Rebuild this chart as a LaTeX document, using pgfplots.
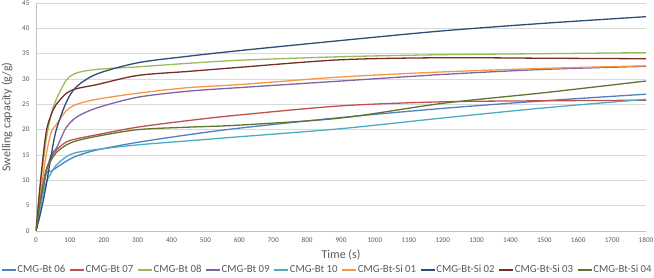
\documentclass[border=0pt]{standalone}
\usepackage{fontspec}
\setmainfont{Carlito}
\usepackage{pgfplots}
\pgfplotsset{compat=1.18}
\definecolor{c1}{HTML}{4F81BD}
\definecolor{c2}{HTML}{C0504D}
\definecolor{c3}{HTML}{9BBB59}
\definecolor{c4}{HTML}{8064A2}
\definecolor{c5}{HTML}{4BACC6}
\definecolor{c6}{HTML}{F79646}
\definecolor{c7}{HTML}{2C4D75}
\definecolor{c8}{HTML}{772C2A}
\definecolor{c9}{HTML}{5F7530}
\definecolor{txt}{HTML}{595959}
\definecolor{grd}{HTML}{D9D9D9}
\definecolor{axl}{HTML}{BFBFBF}
\begin{document}
\begin{tikzpicture}
\path[use as bounding box] (-36pt,-47pt) rectangle (618pt,231pt);
\begin{axis}[
  scale only axis,
  width=610pt, height=228pt,
  xmin=0, xmax=1800, ymin=0, ymax=45,
  xtick distance=100, ytick distance=5,
  axis lines*=left,
  axis line style={draw=axl, line width=0.8pt},
  ymajorgrids, grid style={draw=grd, line width=0.8pt},
  major tick length=0pt,
  tick label style={font=\fontsize{7.2}{8}\selectfont, text=txt},
  /pgf/number format/assume math mode=true,
  /pgf/number format/set thousands separator={},
  xticklabel style={yshift=-3pt},
  yticklabel style={xshift=-3pt},
  xlabel={Time (s)}, ylabel={Swelling capacity (g/g)},
  label style={font=\fontsize{12}{14}\selectfont, text=txt},
  xlabel style={at={(axis description cs:0.5,0)}, anchor=north, yshift=-15pt},
  ylabel style={at={(axis description cs:0,0.5)}, anchor=south, xshift=0pt, yshift=20pt},
  legend columns=9,
  legend style={draw=none, fill=none, at={(0.477,-0.171)}, anchor=center,
    font=\fontsize{10.8}{13}\selectfont, text=txt,
    /tikz/every even column/.append style={column sep=3pt},
    nodes={inner xsep=1pt, inner ysep=0pt}},
  legend image code/.code={\draw[#1, line width=1.2pt] (0pt,0pt) -- (14pt,0pt);},
  every axis plot/.append style={line width=1.3pt, smooth, no markers},
]
\addplot[c1] coordinates {(0,0)(15,6)(30,11.3)(45,11.8)(60,12.5)(90,13.8)(120,14.8)(180,16.0)(300,17.5)(450,19.0)(600,20.3)(900,22.4)(1200,24.2)(1500,25.7)(1800,27.0)};
\addlegendentry{CMG-Bt 06}
\addplot[c2] coordinates {(0,0)(15,7)(30,12)(45,14.5)(60,16)(90,17.6)(120,18.2)(180,19.0)(300,20.5)(450,21.8)(600,22.9)(900,24.7)(1200,25.5)(1500,25.7)(1800,25.8)};
\addlegendentry{CMG-Bt 07}
\addplot[c3] coordinates {(0,0)(15,10)(30,18)(45,23)(60,26)(90,29.8)(120,31.2)(180,31.9)(300,32.4)(450,33.1)(600,33.7)(900,34.4)(1200,34.8)(1500,35.0)(1800,35.2)};
\addlegendentry{CMG-Bt 08}
\addplot[c4] coordinates {(0,0)(15,6)(30,11.5)(45,15)(60,16.3)(75,18.5)(90,20.5)(120,22.5)(180,24.3)(300,26.4)(450,27.6)(600,28.3)(900,29.6)(1200,30.9)(1500,31.9)(1800,32.5)};
\addlegendentry{CMG-Bt 09}
\addplot[c5] coordinates {(0,0)(15,5.5)(30,9.5)(45,11.5)(60,13)(90,14.7)(120,15.5)(180,16.1)(300,17.0)(450,17.8)(600,18.6)(900,20.2)(1200,22.3)(1500,24.3)(1800,26.0)};
\addlegendentry{CMG-Bt 10}
\addplot[c6] coordinates {(0,0)(15,8)(30,15)(45,19.5)(60,21)(90,23.8)(120,25)(180,26)(300,27.2)(450,28.3)(600,28.9)(900,30.4)(1200,31.4)(1500,32.1)(1800,32.6)};
\addlegendentry{CMG-Bt-Si 01}
\addplot[c7] coordinates {(0,0)(15,4)(30,9)(45,15)(60,20)(90,25.5)(120,28.5)(180,31)(300,33.2)(450,34.5)(600,35.6)(900,37.6)(1200,39.5)(1500,41.0)(1800,42.3)};
\addlegendentry{CMG-Bt-Si 02}
\addplot[c8] coordinates {(0,0)(15,11)(30,19.5)(45,23)(60,25)(90,27.2)(120,28.1)(180,28.9)(300,30.7)(450,31.5)(600,32.3)(900,33.8)(1200,34.2)(1500,34.1)(1800,34.0)};
\addlegendentry{CMG-Bt-Si 03}
\addplot[c9] coordinates {(0,0)(15,7)(30,12)(45,14)(60,15.5)(90,17)(120,17.8)(180,18.7)(300,20.0)(450,20.5)(600,20.9)(900,22.3)(1200,25.2)(1500,27.3)(1800,29.6)};
\addlegendentry{CMG-Bt-Si 04}
\end{axis}
\end{tikzpicture}
\end{document}
